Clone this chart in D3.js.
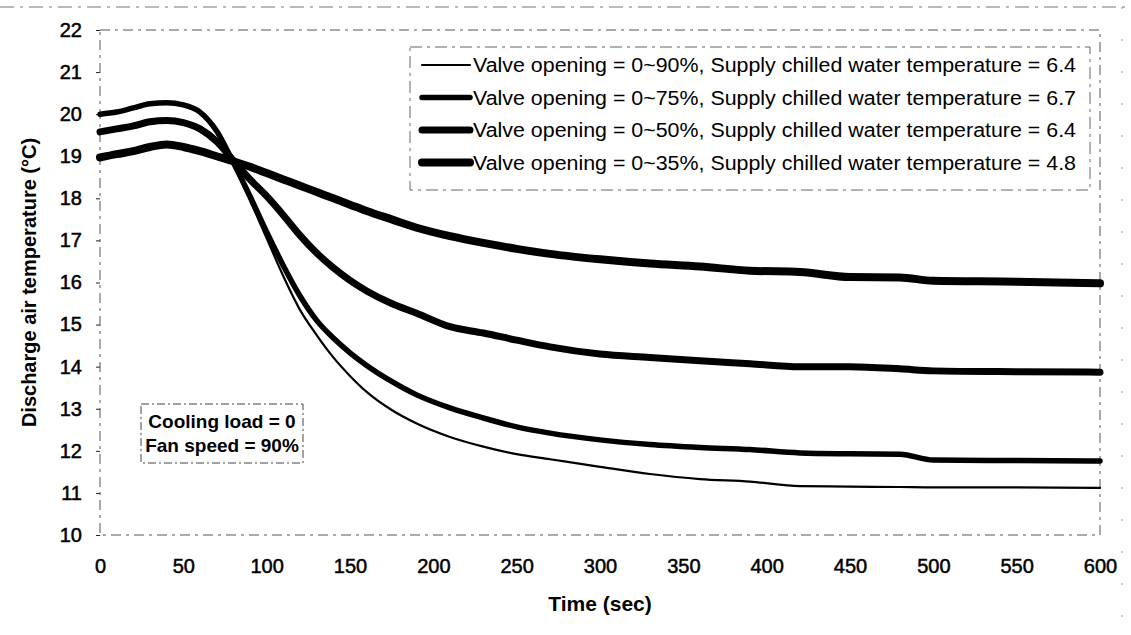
<!DOCTYPE html>
<html>
<head>
<meta charset="utf-8">
<script src="https://cdn.jsdelivr.net/npm/d3@7/dist/d3.min.js"></script>
<style>
  body { margin: 0; background: #fff; }
  svg { display: block; font-family: "Liberation Sans", Arial, sans-serif; }
</style>
</head>
<body>
<svg id="chart" width="1131" height="635"></svg>
<script>
// time axis (sec) shared by all series
const times = [0, 10, 20, 30, 40, 50, 60, 70, 80, 90, 100, 110, 120, 130, 140, 150, 160, 175, 190, 210, 230, 250, 270, 300, 330, 360, 390, 420, 450, 480, 500, 550, 600];

// discharge air temperature (°C)
const valve90 = [20.0, 20.05, 20.15, 20.25, 20.27, 20.22, 20.02, 19.55, 18.8, 17.95, 17.05, 16.15, 15.35, 14.75, 14.22, 13.78, 13.4, 12.97, 12.65, 12.33, 12.1, 11.92, 11.8, 11.62, 11.45, 11.33, 11.27, 11.16, 11.15, 11.14, 11.13, 11.13, 11.12];
const valve75 = [20.0, 20.05, 20.15, 20.25, 20.27, 20.22, 20.05, 19.6, 18.85, 18.05, 17.2, 16.4, 15.68, 15.1, 14.68, 14.33, 14.03, 13.65, 13.33, 13.02, 12.78, 12.57, 12.42, 12.26, 12.15, 12.08, 12.03, 11.95, 11.93, 11.92, 11.78, 11.77, 11.76];
const valve50 = [19.58, 19.65, 19.72, 19.82, 19.85, 19.8, 19.65, 19.35, 18.9, 18.45, 18.05, 17.6, 17.12, 16.7, 16.35, 16.05, 15.8, 15.5, 15.27, 14.95, 14.8, 14.63, 14.47, 14.3, 14.22, 14.14, 14.07, 14.0, 14.0, 13.95, 13.9, 13.88, 13.87];
const valve35 = [18.97, 19.05, 19.12, 19.22, 19.28, 19.22, 19.12, 19.0, 18.88, 18.75, 18.6, 18.45, 18.3, 18.15, 18.0, 17.85, 17.7, 17.5, 17.3, 17.1, 16.94, 16.8, 16.68, 16.55, 16.45, 16.38, 16.28, 16.25, 16.13, 16.12, 16.04, 16.02, 15.98];

const seriesLabels = [
  'Valve opening = 0~90%, Supply chilled water temperature = 6.4',
  'Valve opening = 0~75%, Supply chilled water temperature = 6.7',
  'Valve opening = 0~50%, Supply chilled water temperature = 6.4',
  'Valve opening = 0~35%, Supply chilled water temperature = 4.8'
];
const seriesValues = [valve90, valve75, valve50, valve35];

const yTicks = [10, 11, 12, 13, 14, 15, 16, 17, 18, 19, 20, 21, 22];
const xTicks = [0, 50, 100, 150, 200, 250, 300, 350, 400, 450, 500, 550, 600];
const noteLines = ['Cooling load = 0', 'Fan speed = 90%'];

// styling
const lineWidths = [2.2, 5.5, 7, 8];
const plot = { left: 100, top: 30, right: 1100, bottom: 535 };

const svg = d3.select('#chart');

const x = d3.scaleLinear().domain([0, 600]).range([plot.left, plot.right]);
const y = d3.scaleLinear().domain([10, 22]).range([plot.bottom, plot.top]);

// outer frame remnants (dashed)
svg.append('line')
  .attr('x1', 0).attr('x2', 1131).attr('y1', 7).attr('y2', 7)
  .attr('stroke', '#777').attr('stroke-width', 1).attr('stroke-dasharray', '14,6,3,6');
svg.append('line')
  .attr('x1', 1122).attr('x2', 1122).attr('y1', 7).attr('y2', 635)
  .attr('stroke', '#999').attr('stroke-width', 1).attr('stroke-dasharray', '2,30');

// plot area border, dashed like the scan
svg.append('rect')
  .attr('x', plot.left).attr('y', plot.top)
  .attr('width', plot.right - plot.left).attr('height', plot.bottom - plot.top)
  .attr('fill', 'none').attr('stroke', '#555').attr('stroke-width', 1)
  .attr('stroke-dasharray', '10,5,3,5');

// axes
const yAxis = svg.append('g')
  .attr('class', 'axis y-axis')
  .attr('transform', 'translate(' + plot.left + ',0)')
  .call(d3.axisLeft(y).tickValues(yTicks).tickSize(4).tickPadding(14).tickFormat(d3.format('d')));
yAxis.select('.domain').remove();
yAxis.selectAll('line').attr('stroke', '#222');
yAxis.selectAll('text')
  .attr('font-size', 20).attr('fill', '#000')
  .attr('stroke', '#000').attr('stroke-width', 0.5)
  .attr('font-family', '"Liberation Sans", Arial, sans-serif');

const xAxis = svg.append('g')
  .attr('class', 'axis x-axis')
  .attr('transform', 'translate(0,' + plot.bottom + ')')
  .call(d3.axisBottom(x).tickValues(xTicks).tickSize(0).tickPadding(24).tickFormat(d3.format('d')));
xAxis.select('.domain').remove();
xAxis.selectAll('text')
  .attr('font-size', 20).attr('fill', '#000')
  .attr('stroke', '#000').attr('stroke-width', 0.5)
  .attr('font-family', '"Liberation Sans", Arial, sans-serif');

// axis titles
svg.append('text')
  .attr('x', (plot.left + plot.right) / 2).attr('y', 611)
  .attr('text-anchor', 'middle')
  .attr('font-size', 21).attr('font-weight', 'bold')
  .text('Time (sec)');
svg.append('text')
  .attr('transform', 'translate(29,' + (plot.top + plot.bottom) / 2 + ') rotate(-90)')
  .attr('text-anchor', 'middle').attr('dominant-baseline', 'central')
  .attr('font-size', 20).attr('font-weight', 'bold')
  .text('Discharge air temperature (°C)');

// series lines, thickest first so the thin one stays on top
const line = d3.line()
  .x((d, i) => x(times[i]))
  .y(d => y(d))
  .curve(d3.curveMonotoneX);

svg.append('g')
  .attr('class', 'lines')
  .selectAll('path')
  .data(seriesValues.map((v, i) => ({ v: v, w: lineWidths[i] })).reverse())
  .enter()
  .append('path')
  .attr('d', d => line(d.v))
  .attr('fill', 'none')
  .attr('stroke', '#000')
  .attr('stroke-width', d => d.w)
  .attr('stroke-linecap', 'round')
  .attr('stroke-linejoin', 'round');

// legend
const legend = svg.append('g').attr('class', 'legend');
legend.append('rect')
  .attr('x', 410).attr('y', 47).attr('width', 680).attr('height', 143)
  .attr('fill', '#fff').attr('stroke', '#666').attr('stroke-width', 1)
  .attr('stroke-dasharray', '12,5,3,5');
const items = legend.selectAll('g.item')
  .data(seriesLabels)
  .enter()
  .append('g')
  .attr('class', 'item')
  .attr('transform', (d, i) => 'translate(0,' + (65 + i * 32.5) + ')');
items.append('line')
  .attr('x1', 422).attr('x2', 470).attr('y1', 0).attr('y2', 0)
  .attr('stroke', '#000')
  .attr('stroke-width', (d, i) => lineWidths[i])
  .attr('stroke-linecap', 'round');
items.append('text')
  .attr('x', 473).attr('y', 0)
  .attr('dominant-baseline', 'central')
  .attr('font-size', 20)
  .attr('textLength', 603).attr('lengthAdjust', 'spacingAndGlyphs')
  .text(d => d);

// annotation box
const note = svg.append('g').attr('class', 'note');
note.append('rect')
  .attr('x', 141).attr('y', 404).attr('width', 162).attr('height', 59)
  .attr('fill', '#fff').attr('stroke', '#444').attr('stroke-width', 1)
  .attr('stroke-dasharray', '8,3,2,3');
note.selectAll('text')
  .data(noteLines)
  .enter()
  .append('text')
  .attr('x', 222)
  .attr('y', (d, i) => 428 + i * 24)
  .attr('text-anchor', 'middle')
  .attr('font-size', 19).attr('font-weight', 'bold')
  .text(d => d);
</script>
</body>
</html>
